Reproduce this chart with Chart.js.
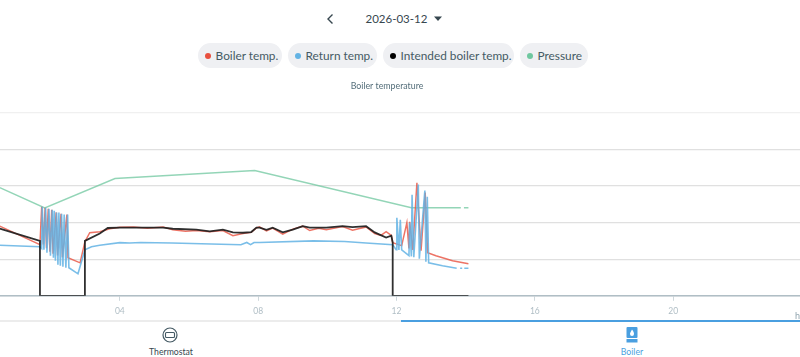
<!DOCTYPE html>
<html>
<head>
<meta charset="utf-8">
<script src="https://cdn.jsdelivr.net/npm/chart.js@4"></script>
<style>
html, body { margin: 0; padding: 0; background: #fff; overflow: hidden; width: 800px; height: 357px; font-family: Lato, sans-serif; color: #37474f; }
.abs { position: absolute; }
.date { left: 365.5px; top: 10px; font-size: 11.5px; line-height: 18px; }
.pill { position: absolute; top: 43px; height: 25px; border-radius: 13px; background: #eff0f3; font-size: 11.8px; line-height: 25px; color: #455a64; white-space: nowrap; }
.pill i { position: absolute; left: 7px; top: 9.5px; width: 6px; height: 6px; border-radius: 50%; }
.pill span { position: absolute; left: 17.6px; }
#wrap { position: absolute; left: -60px; top: 76px; width: 894px; height: 245px; }
.tab { position: absolute; top: 346px; font-size: 8.7px; line-height: 12px; transform: translateX(-50%); }
</style>
</head>
<body>
<svg class="abs" style="left:322px;top:10px" width="16" height="18"><path d="M10.5 4.5 L6 9 L10.5 13.5" fill="none" stroke="#37474f" stroke-width="1.4"/></svg>
<div class="abs date">2026-03-12</div>
<svg class="abs" style="left:433px;top:16px" width="10" height="6"><path d="M1 0.5 H9 L5 5 Z" fill="#37474f"/></svg>

<div class="pill" style="left:198px;width:84px"><i style="background:#e8503f"></i><span>Boiler temp.</span></div>
<div class="pill" style="left:288px;width:89px"><i style="background:#63b3e4"></i><span>Return temp.</span></div>
<div class="pill" style="left:383px;width:131px"><i style="background:#000"></i><span>Intended boiler temp.</span></div>
<div class="pill" style="left:520px;width:68px"><i style="background:#6fc79f"></i><span>Pressure</span></div>

<div id="wrap"><canvas id="myChart"></canvas></div>
<div class="abs" style="left:795px;top:310px;font-size:9px;line-height:12px;color:#90a4ae">h</div>

<div class="abs" style="left:0;top:320px;width:401px;height:2px;background:#ececec"></div>
<div class="abs" style="left:401px;top:320px;width:399px;height:2px;background:#4a9fe0"></div>
<svg class="abs" style="left:162px;top:327px" width="16" height="16"><circle cx="8" cy="8" r="7" fill="none" stroke="#455a64" stroke-width="1.2"/><rect x="3.5" y="5.5" width="9" height="5" rx="1" fill="none" stroke="#455a64" stroke-width="1.1"/></svg>
<svg class="abs" style="left:626px;top:327px" width="12" height="16"><rect x="0.5" y="0" width="11" height="11" rx="1" fill="#4a9fe0"/><rect x="0.5" y="12" width="11" height="3.5" fill="#4a9fe0"/><path d="M6 2.5 C7.8 5 8 6 8 7 A2 2 0 0 1 4 7 C4 6 4.5 5.5 6 2.5 Z" fill="#fff"/></svg>
<div class="tab" style="left:171px;color:#37474f">Thermostat</div>
<div class="tab" style="left:632px;color:#4a9fe0">Boiler</div>

<script>
// Hours on the x axis
const tickHours = [0, 4, 8, 12, 16, 20, 24];

const intendedHours = [0, 0.53, 1.69, 1.69, 2.99, 2.99, 3.42, 3.65, 4.0, 5.25, 5.53, 6.21, 6.6, 6.98, 7.27, 7.56, 7.8, 7.95, 8.04, 8.24, 8.42, 8.71, 9.0, 9.29, 9.49, 9.97, 10.44, 10.73, 11.12, 11.37, 11.7, 11.85, 11.89, 11.89, 14.08];
const intendedTemp = [39, 36.6, 30, 0, 0, 30, 34, 37, 37.2, 37.2, 36.6, 36.1, 35.2, 36.1, 34.6, 34.4, 34.8, 37.2, 37.2, 36, 37.2, 34.6, 36.1, 38, 37.2, 37.2, 38, 37.5, 38, 34.6, 31.8, 32.8, 29, 0, 0];

const boilerHours = [0, 0.53, 1.69, 1.74, 1.79, 1.84, 1.88, 1.93, 1.98, 2.03, 2.07, 2.16, 2.2, 2.3, 2.34, 2.47, 2.5, 2.85, 2.99, 3.13, 3.42, 3.71, 4.0, 4.4, 4.8, 5.25, 5.53, 5.9, 6.21, 6.6, 6.98, 7.27, 7.56, 7.8, 7.95, 8.04, 8.24, 8.42, 8.71, 9.0, 9.29, 9.49, 9.75, 9.97, 10.44, 10.73, 11.12, 11.37, 11.55, 11.7, 11.85, 11.89, 12.15, 12.3, 12.36, 12.38, 12.47, 12.59, 12.71, 12.83, 12.9, 13.14, 13.62, 14.08];
const boilerTemp = [40, 38, 27.9, 48.6, 28, 48, 26, 47.5, 24, 47, 23, 45.5, 22, 44.8, 21, 44.3, 20.8, 18, 29.5, 34.4, 35, 36.6, 37.4, 37.6, 36.8, 37.6, 36, 35.2, 35.6, 35, 35.6, 32.8, 34, 34.6, 37, 37.6, 35.4, 37, 33.6, 36.4, 38, 35.6, 36.8, 36, 37.8, 35.8, 37.6, 34, 33, 35, 33, 29, 27.4, 39.9, 25.8, 40.4, 25.1, 61.7, 24.6, 56.3, 23.5, 21.9, 19.1, 17.5];

const returnHours = [0, 0.53, 1.69, 1.74, 1.756, 1.805, 1.854, 1.892, 1.95, 1.993, 2.045, 2.08, 2.103, 2.137, 2.172, 2.21, 2.238, 2.28, 2.316, 2.354, 2.391, 2.44, 2.49, 2.527, 2.79, 2.99, 3.18, 3.42, 4.0, 4.29, 4.6, 5.5, 7.5, 7.67, 7.78, 7.88, 7.98, 8.04, 9.6, 10.5, 11.12, 11.89, 11.99, 12.01, 12.07, 12.11, 12.15, 12.36, 12.38, 12.43, 12.45, 12.5, 12.63, 12.66, 12.82, 12.85, 12.89, 12.93, 13.33, 13.74, 13.8, 13.84, 13.9, 13.93, 13.96, 14.08];
const returnTemp = [28, 27.6, 26.8, 25.8, 48.6, 25.1, 48.1, 23.5, 47.5, 21.9, 47, 20.8, 46.4, 19.1, 45.4, 16.9, 45.4, 16.4, 44.8, 15.8, 44.3, 15.3, 44.3, 15.3, 12, 25.1, 26.8, 27.6, 29, 28.8, 29.1, 28.8, 27.9, 29.1, 27.9, 29.1, 29.1, 29.1, 30, 29.6, 28.8, 27.9, 25.1, 42.6, 25, 41.5, 25.1, 21.9, 39.9, 21.5, 55.2, 21, 60.7, 20.2, 57.4, 18.6, 54.1, 18, 16.4, 15, null, 15, 15, null, 15, 15];

const pressureHours = [0, 0.53, 1.83, 3.86, 7.9, 12.43, 13.86, 13.9, 13.95, 14.08];
const pressureBar = [3.22, 2.95, 2.4, 3.2, 3.42, 2.4, 2.4, null, 2.4, 2.4];

function toPoints(hours, values) {
    return hours.map(function(hour, i) {
        return { x: hour, y: values[i] };
    });
}

function lineSet(label, hours, values, color, width, axis) {
    return {
        label: label,
        data: toPoints(hours, values),
        borderColor: color,
        borderWidth: width,
        pointRadius: 0,
        tension: 0,
        spanGaps: false,
        yAxisID: axis
    };
}

const data = {
    datasets: [
        lineSet('Intended boiler temp.', intendedHours, intendedTemp, 'rgba(30,30,30,0.92)', 1.8, 'y'),
        lineSet('Return temp.', returnHours, returnTemp, 'rgba(99,179,228,0.85)', 1.6, 'y'),
        lineSet('Boiler temp.', boilerHours, boilerTemp, 'rgba(232,80,63,0.8)', 1.5, 'y'),
        lineSet('Pressure', pressureHours, pressureBar, 'rgba(111,199,159,0.75)', 1.5, 'y2')
    ]
};

// The top grid line is paler and wider than the others
function gridColor(ctx) {
    return ctx.tick && ctx.tick.value === 100 ? '#f0f0f0' : '#e0e0e0';
}

const config = {
    type: 'line',
    data,
    options: {
        animation: false,
        responsive: true,
        maintainAspectRatio: false,
        layout: { padding: 0 },
        plugins: {
            legend: { display: false },
            tooltip: { enabled: false },
            title: {
                display: true,
                text: 'Boiler temperature',
                color: '#546e7a',
                font: { family: 'Lato', size: 8.8, weight: 'normal' },
                padding: { top: 5, bottom: 21 }
            }
        },
        scales: {
            x: {
                type: 'linear',
                min: 0,
                max: 24,
                afterBuildTicks: function(axis) {
                    axis.ticks = tickHours.map(function(hour) { return { value: hour }; });
                },
                ticks: {
                    autoSkip: false,
                    maxRotation: 0,
                    color: '#b0bec5',
                    font: { family: 'Lato', size: 8.5 },
                    padding: 5,
                    callback: function(value) { return String(value).padStart(2, '0'); }
                },
                grid: { drawOnChartArea: false, color: '#cfd8dc', tickLength: 5 },
                border: { color: '#b0bec5', width: 1.5 }
            },
            y: {
                min: 0,
                max: 100,
                afterFit: function(axis) { axis.width = 41.5; },
                ticks: { display: false, stepSize: 20 },
                grid: { color: gridColor, lineWidth: 1.2, drawTicks: false },
                border: { display: false }
            },
            y2: {
                position: 'right',
                min: 0,
                max: 5,
                afterFit: function(axis) { axis.width = 22.5; },
                ticks: { display: false },
                grid: { drawOnChartArea: false, drawTicks: false },
                border: { display: false }
            }
        }
    }
};

const myChart = new Chart(document.getElementById('myChart'), config);
</script>
</body>
</html>
